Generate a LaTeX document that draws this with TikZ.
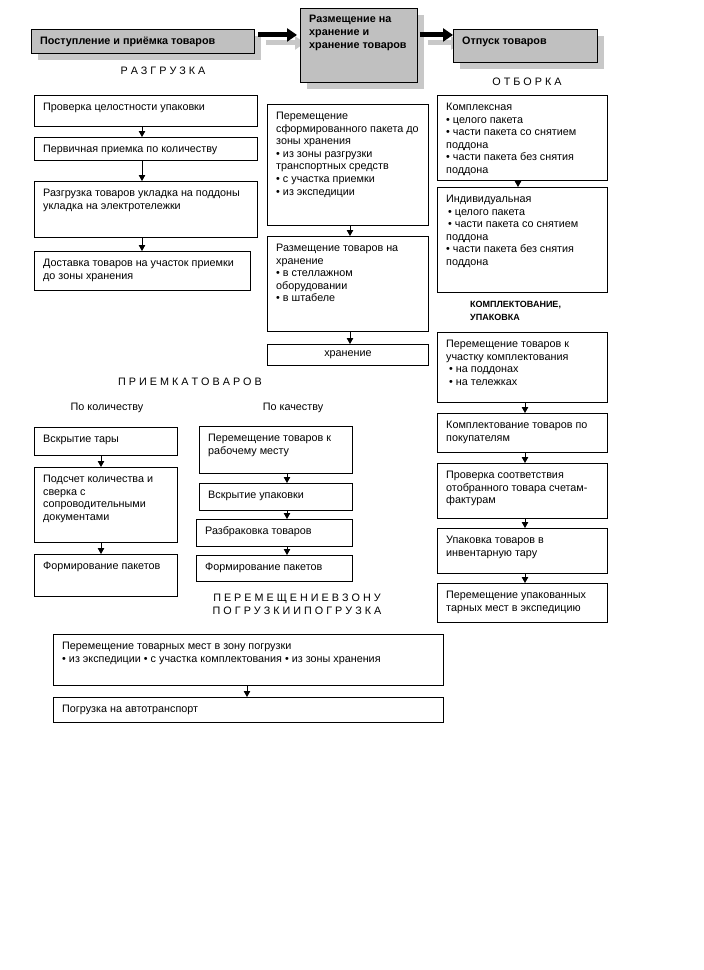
\documentclass[tikz,border=0pt]{standalone}
\usepackage{fontspec}
\setmainfont{Liberation Sans}
\usetikzlibrary{arrows.meta,calc}
\definecolor{boxgray}{RGB}{192,192,192}
\definecolor{shadowgray}{RGB}{200,200,200}
\tikzset{
  box/.style={draw=black, line width=0.9pt, rectangle, inner sep=0pt, anchor=north west},
  hbox/.style={box, fill=boxgray},
  txt/.style={inner sep=0pt, anchor=north west, align=left, font=\fontsize{10.8}{12.6}\selectfont},
  htxt/.style={inner sep=0pt, align=left, font=\bfseries\fontsize{10.8}{13}\selectfont},
  ttl/.style={inner sep=0pt, align=center, font=\fontsize{10.8}{13}\selectfont},
  arr/.style={line width=0.8pt, -{Triangle[width=6.5pt,length=6pt]}},
  bigarr/.style={line width=5pt, -{Triangle[width=13pt,length=10pt]}},
}
\newcommand\mybox[6]{%
  \node[box, minimum width={#4-#2}, minimum height={#5-#3}] (#1) at (#2,#3) {};%
  \node[txt] (#1t) at ([xshift=9pt,yshift=-7.8pt]#1.north west) {#6};%
}
\begin{document}
\begin{tikzpicture}[x=1pt,y=-1pt]
\useasboundingbox (0,0) rectangle (704,970);
\fill[white] (0,0) rectangle (704,970);

% ---------- header ----------
\fill[shadowgray] (38,36) rectangle (261,60);
\fill[shadowgray] (307,15) rectangle (424,89);
\fill[shadowgray] (460,36) rectangle (604,69);

\node[hbox, minimum width=223, minimum height=24] (H1) at (31,29) {};
\node[hbox, minimum width=117, minimum height=74] (H2) at (300,8) {};
\node[hbox, minimum width=144, minimum height=33] (H3) at (453,29) {};

% shadow arrows
\draw[bigarr, shadowgray] ([xshift=11pt,yshift=-1.5pt]H1.east) -- ([xshift=5pt,yshift=2.5pt]H2.west);
\draw[bigarr, shadowgray] ([xshift=10pt,yshift=2.5pt]H2.east) -- ([xshift=8pt,yshift=3pt]H3.west);
\fill[boxgray] ([xshift=0.45pt,yshift=-0.45pt]H2.north west) rectangle ([xshift=-0.45pt,yshift=0.45pt]H2.south east);
\draw[line width=0.9pt] (H2.north west) rectangle (H2.south east);
\fill[boxgray] ([xshift=0.45pt,yshift=-0.45pt]H3.north west) rectangle ([xshift=-0.45pt,yshift=0.45pt]H3.south east);
\draw[line width=0.9pt] (H3.north west) rectangle (H3.south east);

\draw[bigarr] ([xshift=3pt,yshift=6.5pt]H1.east) -- ([xshift=-3pt,yshift=10.5pt]H2.west);
\draw[bigarr] ([xshift=2pt,yshift=10.5pt]H2.east) -- ([yshift=11pt]H3.west);

\node[htxt, anchor=west] (H1t) at ([xshift=9pt,yshift=-0.5pt]H1.west) {Поступление и приёмка товаров};
\node[htxt, anchor=north west] (H2t) at ([xshift=9pt,yshift=-7pt]H2.north west) {Размещение на\\хранение и\\хранение товаров};
\node[htxt, anchor=north west] (H3t) at ([xshift=9pt,yshift=-8pt]H3.north west) {Отпуск товаров};

\node[ttl] (tRaz) at (163,71) {Р А З Г Р У З К А};
\node[ttl] (tOtb) at (527,82) {О Т Б О Р К А};

% ---------- left column ----------
\coordinate (axB) at (142,0);
\mybox{B1}{34}{95}{257}{126}{Проверка целостности упаковки}
\mybox{B2}{34}{137}{257}{160}{Первичная приемка по количеству}
\mybox{B3}{34}{181}{257}{237}{Разгрузка товаров укладка на поддоны\\укладка на электротележки}
\mybox{B4}{34}{251}{250}{290}{Доставка товаров на участок приемки\\до зоны хранения}
\draw[arr] (B1.south -| axB) -- (B2.north -| axB);
\draw[arr] (B2.south -| axB) -- (B3.north -| axB);
\draw[arr] (B3.south -| axB) -- (B4.north -| axB);

% ---------- middle column ----------
\coordinate (axM) at (350,0);
\mybox{M1}{267}{104}{428}{225}{Перемещение\\сформированного пакета до\\зоны хранения\\• из зоны разгрузки\\транспортных средств\\• с участка приемки\\• из экспедиции}
\mybox{M2}{267}{236}{428}{331}{Размещение товаров на\\хранение\\• в стеллажном\\оборудовании\\• в штабеле}
\node[box, minimum width=161, minimum height=21] (M3) at (267,344) {};
\node[ttl] (M3t) at (M3.center) {хранение};
\draw[arr] (M1.south -| axM) -- (M2.north -| axM);
\draw[arr] (M2.south -| axM) -- (M3.north -| axM);

% ---------- right column ----------
\coordinate (axR1) at (518,0);
\coordinate (axR) at (525,0);
\mybox{R1}{437}{95}{607}{180}{Комплексная\\• целого пакета\\• части пакета со снятием\\поддона\\• части пакета без снятия\\поддона}
\mybox{R2}{437}{187}{607}{292}{Индивидуальная\\\hspace*{2pt}• целого пакета\\\hspace*{2pt}• части пакета со снятием\\поддона\\• части пакета без снятия\\поддона}
\draw[arr] (R1.south -| axR1) -- (R2.north -| axR1);
\node[inner sep=0pt, anchor=north west, align=left, font=\bfseries\fontsize{9}{13}\selectfont] (tKomp) at (470,301) {КОМПЛЕКТОВАНИЕ,\\УПАКОВКА};
\mybox{R3}{437}{332}{607}{402}{Перемещение товаров к\\участку комплектования\\\hspace*{3pt}• на поддонах\\\hspace*{3pt}• на тележках}
\mybox{R4}{437}{413}{607}{452}{Комплектование товаров по\\покупателям}
\mybox{R5}{437}{463}{607}{518}{Проверка соответствия\\отобранного товара счетам-\\фактурам}
\mybox{R6}{437}{528}{607}{573}{Упаковка товаров в\\инвентарную тару}
\mybox{R7}{437}{583}{607}{622}{Перемещение упакованных\\тарных мест в экспедицию}
\draw[arr] (R3.south -| axR) -- (R4.north -| axR);
\draw[arr] (R4.south -| axR) -- (R5.north -| axR);
\draw[arr] (R5.south -| axR) -- (R6.north -| axR);
\draw[arr] (R6.south -| axR) -- (R7.north -| axR);

% ---------- приемка товаров ----------
\node[ttl] (tPri) at (190,382) {П Р И Е М К А Т О В А Р О В};
\node[ttl] (tKol) at (107,408) {По количеству};
\node[ttl] (tKach) at (293,408) {По качеству};
\coordinate (axQ) at (101,0);
\mybox{Q1}{34}{427}{177}{455}{Вскрытие тары}
\mybox{Q2}{34}{467}{177}{542}{Подсчет количества и\\сверка с\\сопроводительными\\документами}
\mybox{Q3}{34}{554}{177}{596}{Формирование пакетов}
\draw[arr] (Q1.south -| axQ) -- (Q2.north -| axQ);
\draw[arr] (Q2.south -| axQ) -- (Q3.north -| axQ);
\coordinate (axK) at (287,0);
\mybox{K1}{199}{426}{352}{473}{Перемещение товаров к\\рабочему месту}
\mybox{K2}{199}{483}{352}{510}{Вскрытие упаковки}
\mybox{K3}{196}{519}{352}{546}{Разбраковка товаров}
\mybox{K4}{196}{555}{352}{581}{Формирование пакетов}
\draw[arr] (K1.south -| axK) -- (K2.north -| axK);
\draw[arr] (K2.south -| axK) -- (K3.north -| axK);
\draw[arr] (K3.south -| axK) -- (K4.north -| axK);

% ---------- погрузка ----------
\node[ttl] (tPer) at (297,604.5) {П Е Р Е М Е Щ Е Н И Е В З О Н У\\П О Г Р У З К И И П О Г Р У З К А};
\coordinate (axL) at (247,0);
\mybox{L1}{53}{634}{443}{685}{Перемещение товарных мест в зону погрузки\\• из экспедиции • с участка комплектования • из зоны хранения}
\mybox{L2}{53}{697}{443}{722}{Погрузка на автотранспорт}
\draw[arr] (L1.south -| axL) -- (L2.north -| axL);
\end{tikzpicture}
\end{document}
